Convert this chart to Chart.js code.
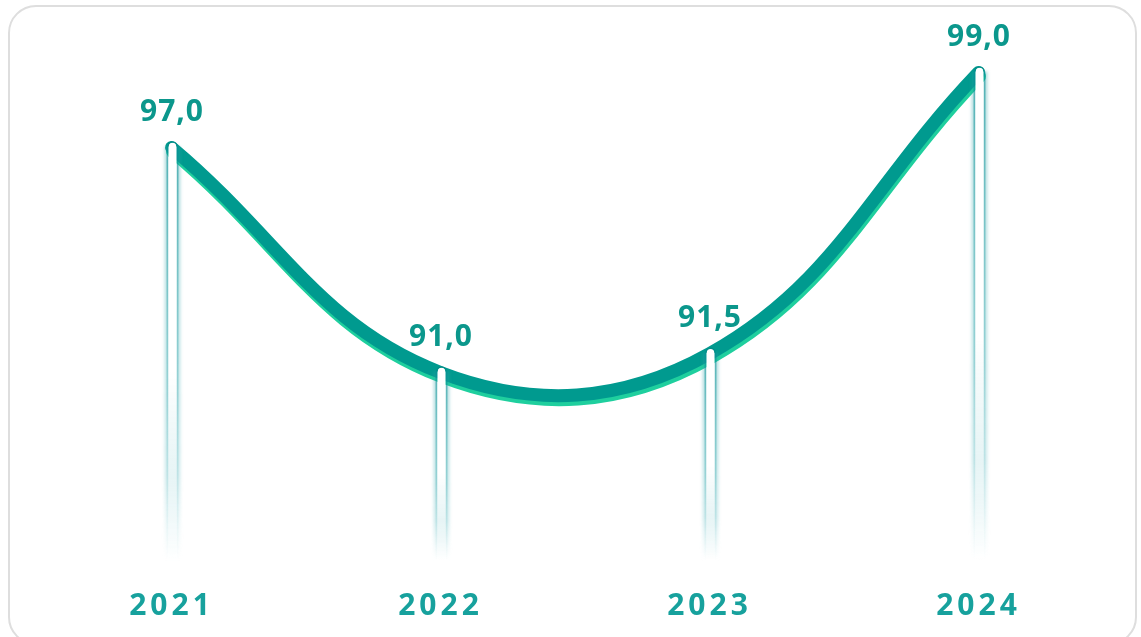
<!DOCTYPE html>
<html>
<head>
<meta charset="utf-8">
<script src="https://cdn.jsdelivr.net/npm/chart.js@4.4.1/dist/chart.umd.min.js"></script>
<style>
  html, body { margin: 0; padding: 0; background: #ffffff; overflow: hidden; }
  body { width: 1141px; height: 637px; position: relative; }
  #frame { position: absolute; left: 8px; top: 5px; width: 1129px; height: 640px;
           border: 2px solid #dedede; border-radius: 28px; box-sizing: border-box; background: #fff; }
  #wrap { position: absolute; left: 0; top: 0; width: 1141px; height: 637px; }
</style>
</head>
<body>
<div id="frame"></div>
<div id="wrap"><canvas id="c" width="1141" height="637"></canvas></div>
<script>
const years = ['2021', '2022', '2023', '2024'];
const values = [97.0, 91.0, 91.5, 99.0];
const yMin = 86;
const yMax = 100;

const FONT = '"Open Sans", "Noto Sans", sans-serif';
const LINE_COLOR = '#009a8f';
const SHADOW_COLOR = '#1fcf9e';
const VALUE_COLOR = '#0b978c';
const YEAR_COLOR = '#17a19d';

const fmt = v => v.toFixed(1).replace('.', ',');

const spacingPlugin = {
  id: 'spacing',
  beforeDraw(chart) {
    chart.ctx.letterSpacing = '4px';
  }
};

const shadowPlugin = {
  id: 'lineShadow',
  beforeDatasetDraw(chart, args) {
    const ctx = chart.ctx;
    ctx.save();
    ctx.shadowColor = SHADOW_COLOR;
    ctx.shadowOffsetX = 1;
    ctx.shadowOffsetY = 4;
    ctx.shadowBlur = 0;
  },
  afterDatasetDraw(chart) {
    chart.ctx.restore();
  }
};

const pillarPlugin = {
  id: 'pillars',
  afterDatasetsDraw(chart) {
    const ctx = chart.ctx;
    const area = chart.chartArea;
    const meta = chart.getDatasetMeta(0);
    const bottom = area.bottom;
    meta.data.forEach((pt, i) => {
      const x = Math.round(pt.x) + 0.5;
      const top = pt.y - 5;
      const h = bottom - top;
      ctx.save();
      ctx.filter = 'blur(1.5px)';
      let g = ctx.createLinearGradient(0, top, 0, bottom);
      g.addColorStop(0, 'rgba(40,160,165,0.35)');
      g.addColorStop(0.55, 'rgba(90,185,190,0.35)');
      g.addColorStop(0.8, 'rgba(140,205,210,0.38)');
      g.addColorStop(1, 'rgba(170,220,225,0)');
      ctx.fillStyle = g;
      ctx.fillRect(x - 8, top + 4, 16, h - 4);
      ctx.filter = 'none';
      let ge = ctx.createLinearGradient(0, top, 0, bottom);
      ge.addColorStop(0, 'rgba(0,140,145,0.55)');
      ge.addColorStop(0.6, 'rgba(60,170,175,0.35)');
      ge.addColorStop(1, 'rgba(120,200,205,0)');
      ctx.fillStyle = ge;
      ctx.fillRect(x - 6, top + 4, 1.5, h - 4);
      ctx.fillRect(x + 4.5, top + 4, 1.5, h - 4);
      let gw = ctx.createLinearGradient(0, top, 0, bottom);
      gw.addColorStop(0, 'rgba(255,255,255,1)');
      gw.addColorStop(0.55, 'rgba(255,255,255,1)');
      gw.addColorStop(0.85, 'rgba(255,255,255,0.35)');
      gw.addColorStop(1, 'rgba(255,255,255,0)');
      ctx.fillStyle = gw;
      const r = 4;
      ctx.beginPath();
      ctx.moveTo(x - r, bottom);
      ctx.lineTo(x - r, top + r);
      ctx.arc(x, top + r, r, Math.PI, 0);
      ctx.lineTo(x + r, bottom);
      ctx.closePath();
      ctx.fill();
      ctx.strokeStyle = 'rgba(0,140,135,0.9)';
      ctx.lineWidth = 1.5;
      ctx.beginPath();
      ctx.arc(x, top + r, r + 0.5, Math.PI, 0);
      ctx.stroke();
      ctx.restore();
    });
    ctx.save();
    ctx.letterSpacing = '1px';
    ctx.font = 'bold 30px ' + FONT;
    ctx.fillStyle = VALUE_COLOR;
    ctx.textAlign = 'center';
    ctx.textBaseline = 'alphabetic';
    meta.data.forEach((pt, i) => {
      ctx.fillText(fmt(values[i]), pt.x + 0.5, pt.y - 27);
    });
    ctx.restore();
  }
};

new Chart(document.getElementById('c'), {
  type: 'line',
  data: {
    labels: years,
    datasets: [{
      data: values,
      borderColor: LINE_COLOR,
      borderWidth: 13,
      borderCapStyle: 'round',
      borderJoinStyle: 'round',
      tension: 0.4,
      pointRadius: 0,
      pointHoverRadius: 0,
      fill: false,
      clip: false
    }]
  },
  options: {
    responsive: false,
    animation: false,
    events: [],
    layout: { padding: { left: 37, right: 28, top: 35, bottom: 0 } },
    plugins: { legend: { display: false }, tooltip: { enabled: false } },
    scales: {
      x: {
        offset: true,
        grid: { display: false, drawTicks: false },
        border: { display: false },
        afterFit(scale) { scale.height = 77; },
        ticks: {
          color: YEAR_COLOR,
          font: { family: FONT, size: 30, weight: 'bold' },
          padding: 28
        }
      },
      y: {
        display: false,
        min: yMin,
        max: yMax
      }
    }
  },
  plugins: [spacingPlugin, shadowPlugin, pillarPlugin]
});
</script>
</body>
</html>
